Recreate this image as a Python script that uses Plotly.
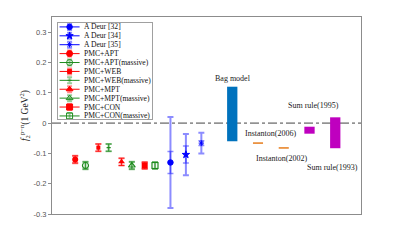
import plotly.graph_objects as go

# ---------------- data ----------------
pmc_names = ["PMC+APT", "PMC+APT(massive)", "PMC+WEB", "PMC+WEB(massive)",
             "PMC+MPT", "PMC+MPT(massive)", "PMC+CON", "PMC+CON(massive)"]
pmc_x = [0.9, 1.3, 1.8, 2.2, 2.7, 3.1, 3.6, 4.0]
pmc_y = [-0.120, -0.140, -0.081, -0.081, -0.128, -0.140, -0.140, -0.140]
pmc_err = [0.012, 0.012, 0.012, 0.012, 0.012, 0.012, 0.011, 0.011]

deur_names = ["A Deur [32]", "A Deur [34]", "A Deur [35]"]
deur_x = [4.6, 5.2, 5.8]
deur_y = [-0.130, -0.104, -0.066]
deur_err_stat = [0.036, 0.028, 0.008]
deur_err_tot = [0.150, 0.068, 0.034]

model_names = ["Bag model", "Instanton(2006)", "Instanton(2002)", "Sum rule(1995)", "Sum rule(1993)"]
bag_x = [7]
bag_low = [-0.06]
bag_high = [0.12]
inst_x = [8, 9]
inst_y = [-0.066, -0.082]
sum_x = [10, 11]
sum_low = [-0.035, -0.083]
sum_high = [-0.012, 0.019]

y_ticks = [-0.3, -0.2, -0.1, 0, 0.1, 0.2, 0.3]
y_tick_text = ["-0.3", "-0.2", "-0.1", "0", "0.1", "0.2", "0.3"]

# ---------------- styles ----------------
RED = "#ff0000"
GREEN = "#1e8c1e"
BLUE = "#0000ff"
RED_L = "rgba(255,0,0,0.45)"
GREEN_L = "rgba(30,140,30,0.45)"
BLUE_L = "rgba(0,0,255,0.45)"
pmc_style = [
    dict(symbol="circle", color=RED, light=RED_L, size=6),
    dict(symbol="circle-open", color=GREEN, light=GREEN_L, size=6),
    dict(symbol="square", color=RED, light=RED_L, size=4),
    dict(symbol="line-ew", color=GREEN, light=GREEN_L, size=3),
    dict(symbol="triangle-up", color=RED, light=RED_L, size=6),
    dict(symbol="triangle-up-open", color=GREEN, light=GREEN_L, size=6),
    dict(symbol="square", color=RED, light=RED_L, size=6),
    dict(symbol="square-open", color=GREEN, light=GREEN_L, size=6),
]
deur_style = [
    dict(symbol="circle", size=5.5),
    dict(symbol="star", size=5.5),
    dict(symbol="asterisk-open", size=4.5),
]
SERIF = "Liberation Serif"
SANS = "Liberation Sans"
FRAME = "#8c8c8c"

fig = go.Figure()

# ---- model bars ----
fig.add_trace(go.Bar(x=bag_x, y=[h - l for h, l in zip(bag_high, bag_low)], base=bag_low,
                     width=0.4, marker=dict(color="#0072BD", line=dict(width=0)),
                     showlegend=False, hoverinfo="skip"))
fig.add_trace(go.Bar(x=sum_x, y=[h - l for h, l in zip(sum_high, sum_low)], base=sum_low,
                     width=0.4, marker=dict(color="#bf00bf", line=dict(width=0)),
                     showlegend=False, hoverinfo="skip"))
fig.add_trace(go.Scatter(x=inst_x, y=inst_y, mode="markers",
                         marker=dict(symbol="line-ew", size=7.2,
                                     line=dict(color="#e8852a", width=1.6)),
                         showlegend=False, hoverinfo="skip"))

# ---- PMC points ----
for i in range(len(pmc_x)):
    st = pmc_style[i]
    mk = dict(symbol=st["symbol"], size=st["size"], color=st["color"])
    if "open" in st["symbol"] or "line" in st["symbol"]:
        mk["line"] = dict(color=st["color"], width=1.2)
    fig.add_trace(go.Scatter(
        x=[pmc_x[i]], y=[pmc_y[i]], mode="markers", marker=mk,
        error_y=dict(type="data", array=[pmc_err[i]], color=st["light"], thickness=2.2, width=3),
        showlegend=False, hoverinfo="skip"))
    fig.add_trace(go.Scatter(
        x=[pmc_x[i]], y=[pmc_y[i]], mode="markers", marker=dict(size=0.1, color=st["color"]),
        error_y=dict(type="data", array=[pmc_err[i]], color=st["color"], thickness=0.8, width=3),
        showlegend=False, hoverinfo="skip"))

# ---- Deur points ----
for i in range(len(deur_x)):
    st = deur_style[i]
    fig.add_trace(go.Scatter(
        x=[deur_x[i]], y=[deur_y[i]], mode="markers",
        marker=dict(size=0.1, color=BLUE),
        error_y=dict(type="data", array=[deur_err_tot[i]], color=BLUE_L, thickness=2, width=3),
        showlegend=False, hoverinfo="skip"))
    fig.add_trace(go.Scatter(
        x=[deur_x[i]], y=[deur_y[i]], mode="markers",
        marker=dict(symbol=st["symbol"], size=st["size"], color=BLUE,
                    line=dict(color=BLUE, width=1)),
        error_y=dict(type="data", array=[deur_err_stat[i]], color=BLUE_L, thickness=1.5, width=3),
        showlegend=False, hoverinfo="skip"))

# ---- model labels ----
label_pos = [(7.04, 0.148), (8.5, -0.033), (8.92, -0.118), (10.14, 0.058), (10.91, -0.147)]
for name, (lx, ly) in zip(model_names, label_pos):
    fig.add_annotation(x=lx, y=ly, xref="x", yref="y", text=name, showarrow=False,
                       font=dict(family=SERIF, size=8, color="#222"))

# ---- manual legend (in its own small axes, pixel units) ----
leg_names = deur_names + pmc_names
leg_colors = [BLUE] * 3 + [s["color"] for s in pmc_style]
leg_light = [BLUE_L] * 3 + [s["light"] for s in pmc_style]
leg_symbols = [s["symbol"] for s in deur_style] + [s["symbol"] for s in pmc_style]
leg_sizes = [s["size"] for s in deur_style] + [s["size"] for s in pmc_style]
for i, name in enumerate(leg_names):
    yy = 3.9 + 8.9 * i
    fig.add_trace(go.Scatter(x=[2, 22], y=[yy, yy], mode="lines",
                             line=dict(color=leg_colors[i], width=1),
                             xaxis="x2", yaxis="y2", showlegend=False, hoverinfo="skip"))
    mk = dict(symbol=leg_symbols[i], size=leg_sizes[i], color=leg_colors[i],
              line=dict(color=leg_colors[i], width=1))
    fig.add_trace(go.Scatter(x=[12], y=[yy], mode="markers", marker=mk,
                             error_y=dict(type="data", array=[3], color=leg_light[i],
                                          thickness=2, width=2.5),
                             xaxis="x2", yaxis="y2", showlegend=False, hoverinfo="skip"))
    fig.add_annotation(x=24.5, y=yy, xref="x2", yref="y2", text=name, showarrow=False,
                       xanchor="left", yanchor="middle",
                       font=dict(family=SERIF, size=7.6, color="#111"))

# ---- zero reference line ----
fig.add_shape(type="line", xref="paper", x0=0, x1=1, yref="y", y0=0, y1=0,
              line=dict(color="#444", width=1, dash="dashdot"), layer="below")

fig.update_layout(
    width=399, height=241,
    margin=dict(l=52, r=38, t=17, b=27),
    paper_bgcolor="white", plot_bgcolor="white",
    showlegend=False, barmode="overlay",
    xaxis=dict(range=[0, 12], domain=[0, 1], showticklabels=False, ticks="",
               showline=True, mirror=True, linecolor=FRAME, linewidth=1,
               showgrid=False, zeroline=False, fixedrange=True),
    yaxis=dict(range=[-0.3, 0.35], tickvals=y_ticks, ticktext=y_tick_text,
               ticks="outside", ticklen=3, tickcolor=FRAME,
               tickfont=dict(family=SANS, size=7.5, color="#555"),
               title=dict(text="<i>f</i><sub>2</sub><sup>p−n</sup>(1 GeV<sup>2</sup>)",
                          font=dict(family=SERIF, size=9.5, color="#222"), standoff=3),
               automargin=False,
               showline=True, mirror=True, linecolor=FRAME, linewidth=1,
               showgrid=False, zeroline=False, fixedrange=True),
    yaxis3=dict(range=[-0.3, 0.35], overlaying="y", side="right", anchor="x",
                tickvals=y_ticks, ticks="inside", ticklen=3, tickcolor=FRAME,
                showticklabels=False, showline=False, showgrid=False,
                zeroline=False, fixedrange=True),
    xaxis2=dict(domain=[0.018, 0.325], range=[0, 94.7], anchor="y2",
                showticklabels=False, ticks="", showline=True, mirror=True,
                linecolor="#a0a0a0", linewidth=1, showgrid=False, zeroline=False,
                fixedrange=True),
    yaxis2=dict(domain=[0.482, 0.9695], range=[96, 0], anchor="x2",
                showticklabels=False, ticks="", showline=True, mirror=True,
                linecolor="#a0a0a0", linewidth=1, showgrid=False, zeroline=False,
                fixedrange=True),
)

fig.write_html("out.html", config={"displayModeBar": False},
               post_script="document.body.style.margin='0';document.body.style.padding='0';")
